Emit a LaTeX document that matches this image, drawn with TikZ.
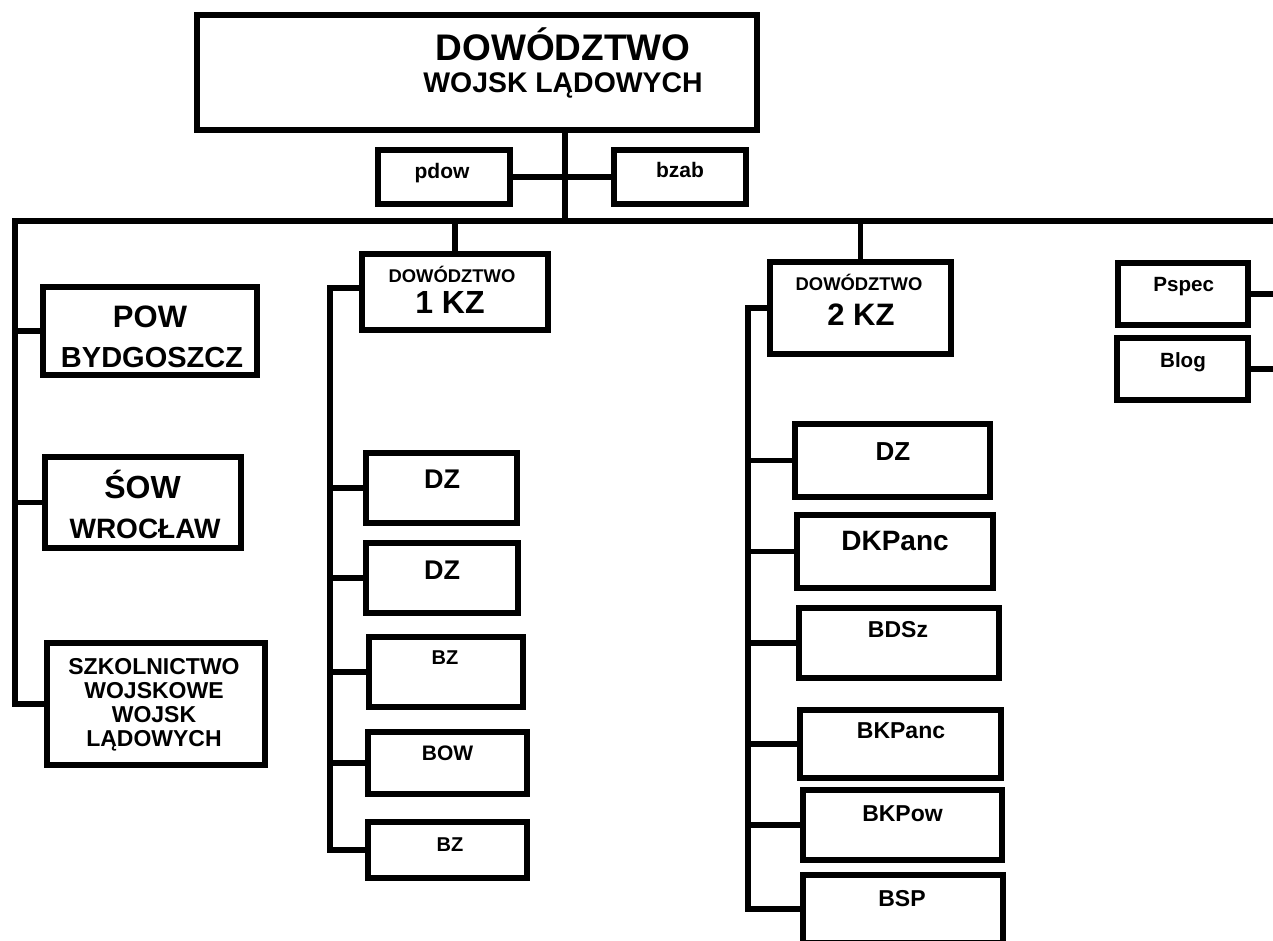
\documentclass[tikz,border=0pt]{standalone}
\usepackage{fontspec}
\setmainfont{Liberation Sans}
\usetikzlibrary{positioning}

\tikzset{
  box/.style 2 args={draw, line width=2.6pt, inner sep=0pt,
    minimum width=#1*0.5pt, minimum height=#2*0.5pt},
  lbl/.style={anchor=base, inner sep=0pt,
    font=\bfseries\fontsize{#1}{#1}\selectfont},
  link/.style={line width=2.6pt},
}

\begin{document}
\begin{tikzpicture}[x=0.5pt, y=-0.5pt, line join=miter]
\useasboundingbox (0,0) rectangle (1273,941);

% command
\node[box={560}{115}] (top)  at (477,72.5) {};
\node[box={132}{54}]  (pdow) at (444,177) {};
\node[box={132}{54}]  (bzab) at (680,177) {};
\node[lbl=18.5] (top-a) at (563,61) {DOWÓDZTWO};
\node[lbl=14.2] (top-b) at (563,93) {WOJSK LĄDOWYCH};
\node[lbl=10.5] (pdow-t) at (442,179) {pdow};
\node[lbl=10.5] (bzab-t) at (680,178) {bzab};

% left column
\node[box={214}{88}]  (pow) at (150,331) {};
\node[box={196}{91}]  (sow) at (143,502.5) {};
\node[box={218}{122}] (szk) at (156,704) {};
\node[lbl=15.5] (pow-a) at (150,327) {POW};
\node[lbl=14.5] (pow-b) at (152,367) {BYDGOSZCZ};
\node[lbl=16]   (sow-a) at (142.5,498) {ŚOW};
\node[lbl=14]   (sow-b) at (145,538) {WROCŁAW};
\node[lbl=11.5] (szk-a) at (154,674) {SZKOLNICTWO};
\node[lbl=11.5] (szk-b) at (154,698) {WOJSKOWE};
\node[lbl=11.5] (szk-c) at (154,722) {WOJSK};
\node[lbl=11.5] (szk-d) at (154,746) {LĄDOWYCH};

% 1 KZ
\node[box={186}{76}] (kz1) at (455,292) {};
\node[box={151}{70}] (dz1) at (441.5,488) {};
\node[box={152}{70}] (dz2) at (442,578) {};
\node[box={154}{70}] (bz1) at (446,672) {};
\node[box={159}{62}] (bow) at (447.5,763) {};
\node[box={159}{56}] (bz2) at (447.5,850) {};
\node[lbl=9.2]  (kz1-a) at (452,282) {DOWÓDZTWO};
\node[lbl=16]   (kz1-b) at (450,313) {1 KZ};
\node[lbl=13.5] (dz1-t) at (442,488) {DZ};
\node[lbl=13.5] (dz2-t) at (442,579) {DZ};
\node[lbl=10]   (bz1-t) at (445,664) {BZ};
\node[lbl=10.5] (bow-t) at (447.5,760) {BOW};
\node[lbl=10]   (bz2-t) at (450,851) {BZ};

% 2 KZ
\node[box={181}{92}]  (kz2)  at (860.5,308) {};
\node[box={195}{73}]  (dz3)  at (892.5,460.5) {};
\node[box={196}{73}]  (dkp)  at (895,551.5) {};
\node[box={200}{70}]  (bds)  at (899,643) {};
\node[box={201}{68}]  (bkpa) at (900.5,744) {};
\node[box={199}{70}]  (bkpo) at (902.5,825) {};
\node[box={200}{68}]  (bsp)  at (903,909) {};
\node[lbl=9.2]  (kz2-a)  at (859,290) {DOWÓDZTWO};
\node[lbl=15.5] (kz2-b)  at (861,325) {2 KZ};
\node[lbl=13]   (dz3-t)  at (893,460) {DZ};
\node[lbl=14]   (dkp-t)  at (895,550) {DKPanc};
\node[lbl=11.5] (bds-t)  at (898,637) {BDSz};
\node[lbl=11.5] (bkpa-t) at (901,738) {BKPanc};
\node[lbl=11.5] (bkpo-t) at (902.5,821) {BKPow};
\node[lbl=11.5] (bsp-t)  at (902,906) {BSP};

% right edge
\node[box={130}{62}] (pspec) at (1183,294) {};
\node[box={131}{62}] (blog)  at (1182.5,369) {};
\node[lbl=10.3] (pspec-t) at (1183.7,291) {Pspec};
\node[lbl=10.3] (blog-t)  at (1183,367) {Blog};

% lines
\coordinate (hub) at (565,221);
\coordinate (lcorner) at (15,221);
\coordinate (rend) at (1290,221);
\coordinate (sp1) at (330,221);
\coordinate (sp2) at (748,221);

\draw[link] (top.south -| hub) -- (hub);
\draw[link] (pdow.east) -- (bzab.west);
\draw[link] (rend) -- (lcorner) |- (szk.west);
\draw[link] (pow.west -| lcorner) -- (pow.west);
\draw[link] (sow.west -| lcorner) -- (sow.west);

\draw[link] (kz1.north |- hub) -- (kz1.north);
\draw[link] ([yshift=2pt]kz1.west) -- ([yshift=2pt]kz1.west -| sp1) |- (bz2.west);
\foreach \n in {dz1,dz2,bz1,bow}
  \draw[link] (\n.west -| sp1) -- (\n.west);

\draw[link] (kz2.north |- hub) -- (kz2.north);
\draw[link] (kz2.west) -- (kz2.west -| sp2) |- (bsp.west);
\foreach \n in {dz3,dkp,bds,bkpa,bkpo}
  \draw[link] (\n.west -| sp2) -- (\n.west);

\draw[link] (pspec.east) -- (pspec.east -| rend);
\draw[link] (blog.east) -- (blog.east -| rend);
\end{tikzpicture}
\end{document}
